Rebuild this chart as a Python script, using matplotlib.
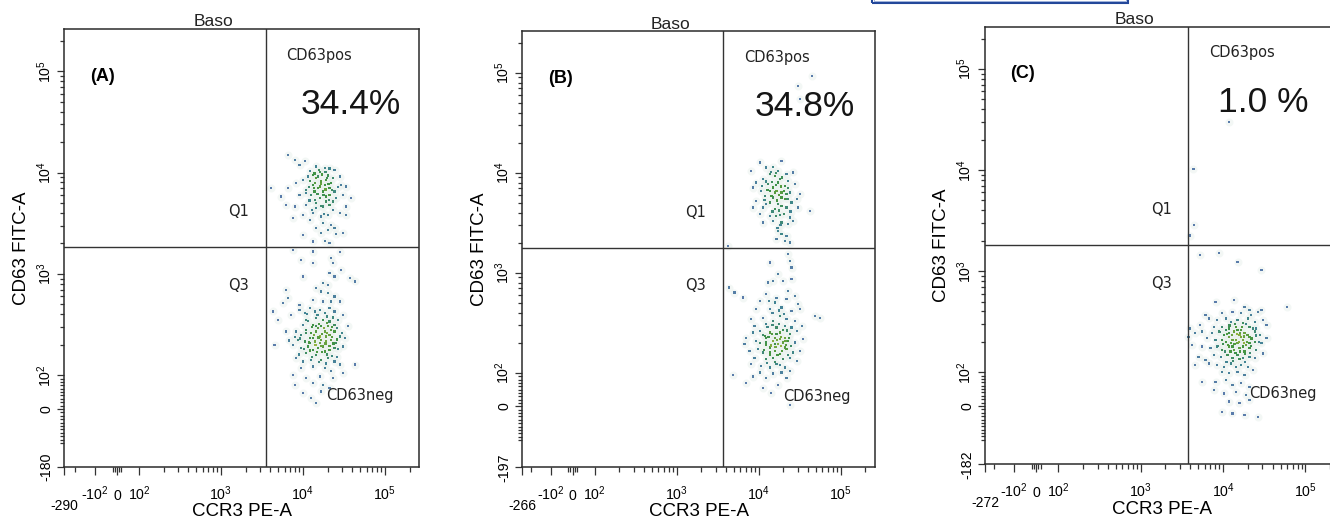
import numpy as np
import matplotlib
matplotlib.use("Agg")
import matplotlib.pyplot as plt
from matplotlib.colors import LinearSegmentedColormap
from matplotlib.patches import Rectangle

plt.rcParams['font.family'] = ['Liberation Sans', 'DejaVu Sans']
plt.rcParams['mathtext.fontset'] = 'custom'
plt.rcParams['mathtext.rm'] = 'Liberation Sans'
plt.rcParams['mathtext.it'] = 'Liberation Sans:italic'
plt.rcParams['mathtext.bf'] = 'Liberation Sans:bold'

# events as (CCR3 PE-A, CD63 FITC-A)
a_pos_events = [
    (6560, 15000), (7910, 13400), (10500, 13100), (9100, 11900), (14500, 11500), (18400, 11200),
    (21100, 11000), (12100, 10400), (16000, 10200), (24300, 10600), (28000, 9140), (13200, 9490),
    (20200, 9350), (11500, 9140), (10000, 8480), (14500, 8810), (16700, 8160), (19200, 8480),
    (22100, 7860), (29300, 7560), (13200, 7560), (8290, 7860), (4110, 7010), (6560, 7010),
    (11000, 6750), (15200, 7010), (17500, 6500), (21100, 7010), (24300, 6500), (33700, 7280),
    (5440, 5800), (9100, 6030), (12600, 6030), (16000, 5590), (19200, 5800), (25500, 5590),
    (38800, 5590), (30700, 6030), (6270, 4800), (7910, 4620), (11000, 4800), (14500, 4990),
    (17500, 4620), (21100, 4800), (23200, 4290), (33700, 4620), (7550, 3550), (10000, 3830),
    (13200, 3970), (16700, 3680), (20200, 3830), (28000, 3970), (33700, 3830), (12100, 3420),
    (17500, 3160), (22100, 3050), (20200, 2720), (14500, 2820), (24300, 2820), (16700, 2520),
    (25500, 2470), (30700, 2520), (13200, 2090), (18400, 2120), (21100, 2010), (10000, 2430),
    (15200, 9140), (18400, 7560), (13800, 6500), (21100, 6030), (16000, 7280), (19200, 5180),
    (14500, 4450), (13800, 9800), (17200, 9600), (19800, 8900), (12300, 8300), (14000, 7900),
    (16500, 7700), (20500, 7700), (23000, 8900), (11800, 7200), (13500, 7100), (18800, 6800),
    (22500, 6700), (15000, 6200), (17800, 6000), (20600, 5400), (14000, 5400), (12000, 5300),
    (16800, 4700), (23400, 5200), (26500, 7200), (18800, 10200), (15600, 10700), (10800, 6300),
    (12800, 4300), (18000, 3900),
]
a_neg_events = [
    (7550, 1730), (13200, 1660), (28000, 1640), (9530, 1380), (22100, 1430), (23200, 1280),
    (13200, 1280), (29300, 1100), (10000, 942), (21100, 1020), (24300, 942), (37100, 908),
    (42700, 841), (17500, 810), (20200, 780), (6270, 696), (14500, 722), (16700, 670),
    (20200, 645), (24300, 598), (13200, 555), (17500, 534), (22100, 534), (28000, 534),
    (6560, 576), (5700, 514), (9100, 495), (4310, 426), (4950, 352), (7210, 394),
    (9100, 442), (10500, 410), (12100, 459), (13900, 426), (16000, 442), (18400, 410),
    (21100, 459), (24300, 426), (30700, 394), (11000, 352), (14500, 366), (17500, 352),
    (21100, 339), (26700, 352), (10000, 314), (13200, 314), (16700, 303), (20200, 303),
    (24300, 314), (35400, 303), (6270, 270), (8290, 270), (9530, 250), (11000, 281),
    (12600, 260), (14500, 270), (16000, 241), (18400, 270), (21100, 250), (24300, 270),
    (28000, 241), (8690, 223), (10500, 215), (12100, 232), (13900, 215), (16000, 207),
    (19200, 215), (22100, 223), (25500, 207), (32200, 232), (4510, 200), (7550, 200),
    (9530, 185), (11500, 192), (13200, 178), (15200, 185), (17500, 192), (21100, 178),
    (24300, 185), (30700, 192), (11000, 165), (14500, 159), (8290, 147), (10000, 136),
    (12600, 142), (16700, 142), (20200, 147), (24300, 136), (28000, 127), (9530, 117),
    (13200, 122), (18400, 117), (22100, 109), (30700, 105), (42700, 127), (7550, 101),
    (11000, 91), (16000, 96), (23200, 91), (7910, 71), (13200, 76), (17500, 71),
    (21100, 62), (10000, 47), (12600, 32), (14500, 17), (16700, 52),
    (13200, 232), (16700, 223), (15200, 291), (19200, 241), (12100, 207), (18400, 171),
    (14500, 303), (22100, 281), (11500, 340), (12800, 300), (15800, 320), (18000, 290),
    (19800, 330), (22800, 300), (26000, 290), (10800, 260), (13500, 250), (15500, 235),
    (17000, 255), (19500, 260), (22800, 240), (26000, 225), (9200, 230), (11800, 210),
    (14200, 200), (16800, 195), (18800, 205), (21000, 195), (23500, 205), (27000, 180),
    (10200, 180), (12300, 175), (14800, 170), (17200, 168), (19800, 160), (22500, 155),
    (9000, 160), (12900, 150), (15600, 135), (18900, 130), (26000, 150), (8000, 240),
    (6800, 220), (30000, 260), (11200, 400), (15000, 395), (19500, 380), (23000, 370),
]
b_pos_events = [
    (44500, 93300), (30500, 74100), (32000, 54500), (10300, 12700), (19000, 13200), (12400, 11300),
    (15000, 11500), (8130, 10500), (17300, 10500), (13700, 9700), (15700, 9330), (21900, 9700),
    (26500, 10100), (11300, 8650), (18100, 8650), (23000, 8320), (9370, 8000), (13000, 7710),
    (20900, 7410), (27700, 7710), (8530, 7130), (15000, 7130), (10800, 6610), (16500, 6610),
    (19000, 6360), (24100, 6360), (32000, 6120), (11900, 5890), (15000, 5670), (20900, 5450),
    (29100, 5450), (9370, 5250), (13700, 5050), (17300, 4860), (25200, 5050), (8530, 4500),
    (11300, 4500), (15700, 4330), (21900, 4500), (30500, 4500), (42500, 4170), (10300, 3860),
    (13700, 3720), (18100, 3800), (24100, 3580), (11300, 3190), (15000, 3310), (19000, 3190),
    (23000, 3070), (26500, 3310), (17300, 2630), (19000, 2440), (21900, 2340), (16500, 2170),
    (20900, 2090), (24100, 2010), (4200, 1860),
    (15700, 6360), (19000, 5670), (13700, 6610), (17300, 8000), (21900, 6120), (12400, 4860),
    (14200, 10200), (16400, 9900), (19300, 9000), (12200, 8200), (14500, 8100), (16200, 7600),
    (18700, 7300), (22800, 7000), (12800, 6800), (17800, 6000), (20200, 6600), (14400, 5900),
    (16600, 5300), (22500, 5500), (11800, 5400), (19000, 4700), (14800, 4100), (17600, 4200),
    (20200, 3900), (16400, 3700), (18500, 3000), (17000, 2800), (24500, 4100), (10900, 7400),
]
b_neg_events = [
    (23000, 1540), (24100, 1320), (13700, 1270), (25200, 1130), (17300, 970), (15000, 832),
    (19900, 832), (25200, 865), (13000, 800), (23000, 661), (12400, 612), (27700, 589),
    (4400, 713), (5070, 636), (6430, 567), (10300, 525), (15700, 505), (21900, 546),
    (30500, 486), (9370, 433), (13700, 433), (19000, 450), (25200, 417), (32000, 433),
    (48900, 372), (56300, 357), (8130, 344), (11300, 357), (15000, 331), (18100, 372),
    (21900, 344), (27700, 331), (8940, 295), (12400, 307), (16500, 284), (20900, 295),
    (25200, 284), (33500, 295), (7060, 225), (8530, 253), (10300, 263), (11900, 234),
    (13700, 253), (15700, 225), (18100, 253), (20900, 225), (24100, 244), (29100, 263),
    (9370, 209), (12400, 201), (15000, 209), (17300, 194), (19900, 201), (23000, 209),
    (27700, 201), (35100, 217), (6730, 194), (7760, 166), (9810, 173), (11300, 160),
    (13700, 179), (15700, 166), (18100, 154), (21900, 173), (26500, 160), (32000, 166),
    (8940, 142), (12400, 137), (15000, 142), (19900, 137), (24100, 142), (29100, 132),
    (8130, 122), (10800, 117), (13700, 113), (16500, 122), (20900, 113), (10300, 101),
    (15000, 98), (19000, 101), (24100, 105), (8530, 89), (12400, 84), (21900, 84),
    (4840, 94), (7060, 69), (14300, 39), (24100, 4), (17300, 64), (11300, 54),
    (15700, 194), (18100, 217), (13700, 160), (20900, 179), (16500, 244), (12400, 225),
    (12800, 290), (14800, 300), (17600, 310), (19800, 270), (22300, 265), (11200, 240),
    (13200, 230), (14600, 245), (16800, 215), (18800, 230), (21300, 210), (23600, 225),
    (10500, 200), (12200, 190), (14200, 188), (16100, 180), (18600, 185), (21500, 190),
    (25000, 185), (11700, 170), (13900, 150), (17000, 150), (19300, 165), (22700, 150),
    (15800, 128), (18200, 120), (12700, 125), (14800, 400), (17800, 420), (20500, 390),
    (16500, 560), (13500, 520),
]
c_pos_events = [(11900, 29900), (4370, 10200), (4470, 2880), (4000, 2250)]
c_neg_events = [
    (5290, 1440), (8920, 1500), (15000, 1240), (29200, 1030), (59600, 444), (8110, 498),
    (13700, 518), (18200, 444), (20900, 412), (26600, 396), (29200, 412), (6110, 367),
    (9810, 382), (13000, 396), (16500, 382), (22000, 367), (6710, 340), (8510, 328),
    (10800, 340), (12400, 316), (15000, 328), (17300, 304), (20000, 340), (24200, 316),
    (30600, 328), (3980, 271), (5290, 292), (7740, 282), (9810, 282), (11900, 271),
    (14300, 282), (16500, 261), (20900, 282), (25300, 271), (33700, 292), (3800, 224),
    (4590, 242), (5550, 252), (7380, 242), (8920, 252), (10300, 233), (11900, 242),
    (13700, 252), (15800, 233), (18200, 242), (20900, 224), (24200, 252), (27900, 233),
    (33700, 216), (8110, 208), (10800, 200), (13000, 208), (15000, 193), (17300, 208),
    (20900, 193), (24200, 200), (29200, 193), (6400, 216), (4180, 186), (5550, 179),
    (7040, 172), (8510, 179), (9810, 166), (11900, 179), (13700, 166), (15800, 172),
    (18200, 160), (20900, 172), (25300, 166), (30600, 153), (7740, 148), (9350, 142),
    (11300, 148), (13000, 137), (15000, 148), (17300, 137), (20900, 142), (24200, 137),
    (5050, 142), (6110, 132), (4590, 118), (6710, 122), (8510, 118), (10300, 113),
    (12400, 122), (14300, 113), (16500, 118), (20000, 113), (9810, 101), (11900, 97),
    (15000, 101), (18200, 92), (23000, 105), (5550, 72), (8110, 72), (10800, 77),
    (13000, 62), (16500, 67), (20900, 57), (7740, 47), (10300, 37), (14300, 42),
    (19100, 33), (11900, 13), (15800, 8), (20900, 18), (9810, -17), (13000, -22),
    (18200, -27), (26600, -32),
    (11900, 224), (14300, 208), (16500, 224), (13000, 179), (19100, 186), (10800, 261),
    (15000, 261), (12400, 193), (17300, 179), (9810, 208), (11100, 240), (12800, 235),
    (14800, 240), (16200, 245), (18000, 225), (19800, 235), (22100, 215), (10000, 190),
    (11400, 185), (13800, 190), (15600, 200), (17800, 195), (19500, 200), (22000, 180),
    (10600, 160), (12300, 160), (14200, 155), (16200, 160), (18600, 150), (21300, 155),
    (9100, 250), (12000, 290), (14000, 300), (17000, 280), (19000, 300), (23000, 270),
    (8700, 180), (13200, 130), (15800, 135), (18600, 125), (11000, 125), (25000, 230),
    (27000, 200),
]

panel_events = [a_pos_events + a_neg_events, b_pos_events + b_neg_events, c_pos_events + c_neg_events]
panel_tags = ['(A)', '(B)', '(C)']
pos_percent = ['34.4%', '34.8%', '1.0 %']
x_low = [-290, -266, -272]
y_low = [-180, -197, -182]
gate_x = [3500, 3650, 3800]
gate_y = [1830, 1780, 1810]
top_value = 262144

x_major = [-100, 0, 100, 1e3, 1e4, 1e5]
x_major_labels = ['-$10^{2}$', '0', '$10^{2}$', '$10^{3}$', '$10^{4}$', '$10^{5}$']
y_major = [0, 1e2, 1e3, 1e4, 1e5]
y_major_labels = ['0', '$10^{2}$', '$10^{3}$', '$10^{4}$', '$10^{5}$']
decade_minor = [m * 10 ** n for n in (2, 3, 4) for m in range(2, 10)] + [2e5]
x_minor = [-200, -20, -10, 10, 20] + decade_minor
y_minor = [v for v in range(-100, 100, 10) if v != 0] + decade_minor


def biex(a, kneg, lin=100.0):
    # linear around zero, log above +lin, squeezed log below -lin (FlowJo-like display)
    def fwd(v):
        v = np.asarray(v, dtype=float)
        av = np.maximum(np.abs(v), 1e-9)
        out = a * v / lin
        out = np.where(v >= lin, a + np.log10(av / lin), out)
        out = np.where(v <= -lin, -(a + kneg * np.log10(av / lin)), out)
        return out

    def inv(d):
        d = np.asarray(d, dtype=float)
        with np.errstate(over='ignore', invalid='ignore'):
            out = d * lin / a
            out = np.where(d >= a, lin * 10 ** (d - a), out)
            out = np.where(d <= -a, -lin * 10 ** ((-d - a) / kneg), out)
        return out
    return fwd, inv


fx = biex(0.268, 0.81)
fy = biex(0.335, 0.93)

cmap = LinearSegmentedColormap.from_list('pseudo', ['#5a7cab', '#3f8592', '#3f9341', '#93b23e'])

W, H = 1330, 521
# plot frames in pixels: left, top, right, bottom
panel_box = [(64.3, 29, 419.3, 467), (522.3, 31, 875, 467.3), (985, 26.7, 1340, 464.3)]

fig = plt.figure(figsize=(W / 100, H / 100), dpi=100)
px = 0.72  # points per pixel

for i in range(3):
    l, t, r, b = panel_box[i]
    ax = fig.add_axes([l / W, 1 - b / H, (r - l) / W, (b - t) / H])
    ax.set_xscale('function', functions=fx)
    ax.set_yscale('function', functions=fy)
    ax.set_xlim(x_low[i], top_value)
    ax.set_ylim(y_low[i], top_value)

    ev = np.array(panel_events[i], dtype=float)
    xs, ys = ev[:, 0], ev[:, 1]
    dx, dy = fx[0](xs), fy[0](ys)
    dist = np.hypot(dx[:, None] - dx[None, :], dy[:, None] - dy[None, :])
    counts = (dist < 0.1).sum(axis=1) - 1
    dens = counts / max(counts.max(), 1)
    ax.scatter(xs, ys, s=34, c='#e6efeb', alpha=0.45, linewidths=0, zorder=1)
    ax.scatter(xs, ys, s=2.6, c=cmap(dens), marker='s', linewidths=0, zorder=2)

    ax.axvline(gate_x[i], color='#333333', lw=1.0, zorder=3)
    ax.axhline(gate_y[i], color='#333333', lw=1.0, zorder=3)

    ax.set_xticks([x_low[i]] + x_major, [''] + x_major_labels)
    ax.set_xticks(x_minor, minor=True)
    ax.set_yticks([y_low[i]] + y_major, [str(y_low[i])] + y_major_labels)
    ax.set_yticks(y_minor, minor=True)
    ax.tick_params(which='both', direction='out', color='#333333', width=0.9)
    ax.tick_params(which='major', length=7.5 * px, labelsize=10.2)
    ax.tick_params(which='minor', length=4.5 * px)
    ax.tick_params(axis='x', which='major', pad=18.5)
    ax.tick_params(axis='y', which='major', pad=2.2)
    for lbl in ax.get_xticklabels():
        lbl.set_va('baseline')
    for lbl in ax.get_yticklabels():
        lbl.set_rotation(90)
        lbl.set_va('center')
    for sp in ax.spines.values():
        sp.set_color('#2b2b2b')
        sp.set_linewidth(1.1)

    ax.annotate(str(x_low[i]), xy=(x_low[i], 0), xycoords=('data', 'axes fraction'),
                xytext=(0, -39 * px), textcoords='offset points', ha='center', va='center', fontsize=10)

    ax.set_xlabel('CCR3 PE-A', fontsize=13.5)
    ax.xaxis.set_label_coords(0.5, -44.7 / (b - t))
    ax.xaxis.label.set_va('center')
    ax.set_ylabel('CD63 FITC-A', fontsize=13.5)
    ax.yaxis.set_label_coords(-43 / (r - l), 0.5)
    ax.yaxis.label.set_va('center')

    ax.annotate('Baso', xy=(0.42, 1), xycoords='axes fraction', xytext=(0, 2.5 * px),
                textcoords='offset points', ha='center', va='baseline', fontsize=12.5, color='#222222')
    ax.text(0.072, 0.892, panel_tags[i], transform=ax.transAxes, fontsize=13, fontweight='bold',
            ha='left', va='center')

    quad = dict(fontfamily='DejaVu Sans', fontsize=10.5, color='#222222', textcoords='offset points')
    ax.annotate('CD63pos', xy=(gate_x[i], 0.93), xycoords=('data', 'axes fraction'),
                xytext=(21 * px, 0), ha='left', va='baseline', **quad)
    ax.annotate('CD63neg', xy=(gate_x[i], 0.152), xycoords=('data', 'axes fraction'),
                xytext=(60.5 * px, 0), ha='left', va='baseline', **quad)
    ax.annotate('Q1', xy=(gate_x[i], gate_y[i]), xytext=(-16.5 * px, 31 * px),
                ha='right', va='baseline', **quad)
    ax.annotate('Q3', xy=(gate_x[i], gate_y[i]), xytext=(-16.5 * px, -42.5 * px),
                ha='right', va='baseline', **quad)
    pct_dx = [35, 32, 30][i]
    ax.annotate(pos_percent[i], xy=(gate_x[i], 0.806), xycoords=('data', 'axes fraction'),
                xytext=(pct_dx * px, 0), textcoords='offset points', ha='left', va='baseline',
                fontsize=25.5, color='#151515')

# page box cut by the top edge
fig.add_artist(Rectangle((871.7 / W, 1 - 2.6 / H), (1128.3 - 871.7) / W, 20 / H,
                         transform=fig.transFigure, fill=False, edgecolor='#23479a', lw=1.5))
fig.add_artist(Rectangle((874 / W, 1 - 0.8 / H), (1126 - 874) / W, 20 / H,
                         transform=fig.transFigure, fill=False, edgecolor='#9db0da', lw=0.7))

fig.savefig('out.png', dpi=100)
